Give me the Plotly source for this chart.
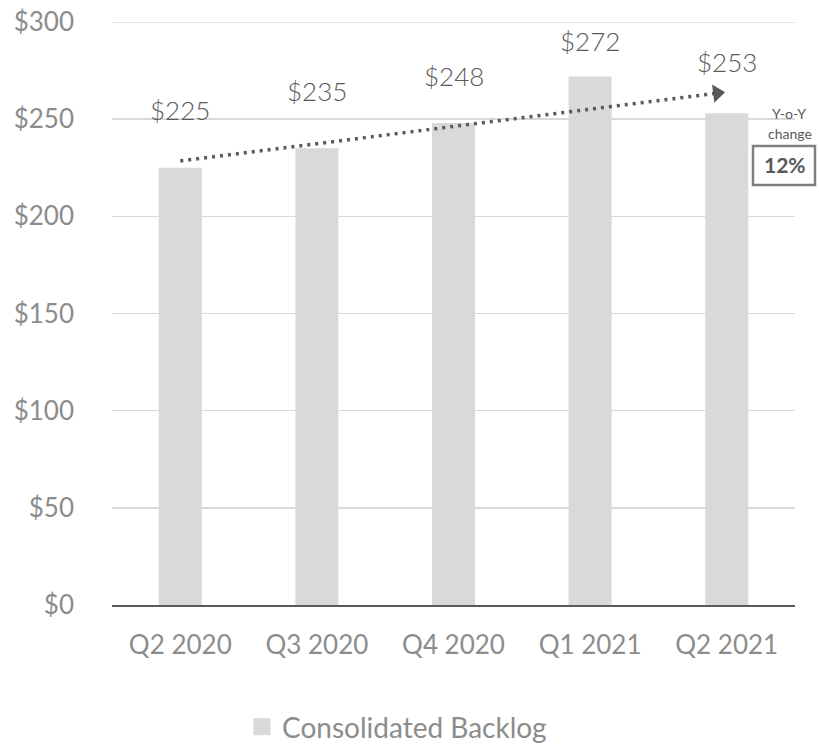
import plotly.graph_objects as go

categories = ["Q2 2020", "Q3 2020", "Q4 2020", "Q1 2021", "Q2 2021"]
backlog = [225, 235, 248, 272, 253]
value_labels = ["$225", "$235", "$248", "$272", "$253"]
y_ticks = [0, 50, 100, 150, 200, 250, 300]
y_tick_labels = ["$0", "$50", "$100", "$150", "$200", "$250", "$300"]
series_name = "Consolidated Backlog"
yoy_change = "12%"

# trend arrow endpoints (category index, value)
trend_start = (0, 228.5)
trend_end = (3.93, 263.4)

# per-label vertical offset (px) of the value labels above the bar tops
label_shift = [58, 57, 47, 35, 51]

GREY_BAR = "#d9d9d9"
DARK = "#595959"
TICK = "#8c8c8c"
FONT = "Lato"

PL, PT, PR, PB = 112, 22, 795, 605   # plot area in window pixels
PW, PH = PR - PL, PB - PT


def px_x(v):
    return (v - PL) / PW


def px_y(v):
    return (PB - v) / PH


x_idx = list(range(len(categories)))

fig = go.Figure()
fig.add_trace(go.Bar(
    x=x_idx, y=backlog, name=series_name,
    marker=dict(color=GREY_BAR, line=dict(width=0)),
    showlegend=False, hoverinfo="skip",
))
# legend entry (larger square swatch)
fig.add_trace(go.Scatter(
    x=[None], y=[None], mode="markers", name=series_name,
    marker=dict(symbol="square", size=16, color=GREY_BAR,
                line=dict(color=GREY_BAR, width=1)),
))
fig.add_trace(go.Scatter(
    x=[trend_start[0], trend_end[0]], y=[trend_start[1], trend_end[1]],
    mode="lines", line=dict(color=DARK, width=3.5, dash="3px,5px"),
    showlegend=False, hoverinfo="skip",
))
fig.add_trace(go.Scatter(
    x=[trend_end[0]], y=[trend_end[1]], mode="markers",
    marker=dict(symbol="triangle-right", size=16, color=DARK, angle=-7,
                line=dict(width=0)),
    showlegend=False, hoverinfo="skip",
))

for i, (v, lab) in enumerate(zip(backlog, value_labels)):
    fig.add_annotation(x=i, y=v, text=lab, showarrow=False, yshift=label_shift[i],
                       font=dict(family=FONT, size=26, color=DARK, weight=300))

# top gridline (plotly omits the grid line on the plot edge)
fig.add_shape(type="line", xref="paper", yref="y", x0=0, x1=1,
              y0=y_ticks[-1], y1=y_ticks[-1], layer="below",
              line=dict(color=GREY_BAR, width=1.5))

# Y-o-Y box
fig.add_annotation(xref="paper", yref="paper", x=px_x(789), y=px_y(114),
                   text="Y-o-Y", showarrow=False, xanchor="center", yanchor="middle",
                   font=dict(family=FONT, size=14, color=DARK))
fig.add_annotation(xref="paper", yref="paper", x=px_x(790), y=px_y(133),
                   text="change", showarrow=False, xanchor="center", yanchor="middle",
                   font=dict(family=FONT, size=14, color=DARK))
fig.add_shape(type="rect", xref="paper", yref="paper",
              x0=px_x(753), x1=px_x(815), y0=px_y(185), y1=px_y(146),
              line=dict(color="#7f7f7f", width=2.5), fillcolor="rgba(0,0,0,0)")
fig.add_annotation(xref="paper", yref="paper", x=px_x(785), y=px_y(165),
                   text="<b>" + yoy_change + "</b>", showarrow=False,
                   xanchor="center", yanchor="middle",
                   font=dict(family=FONT, size=21, color=DARK))

fig.update_layout(
    width=819, height=745,
    margin=dict(l=PL, r=819 - PR, t=PT, b=745 - PB, autoexpand=False),
    plot_bgcolor="white", paper_bgcolor="white",
    bargap=0.685,
    showlegend=True,
    hovermode=False,
    legend=dict(orientation="h", x=px_x(242), xanchor="left",
                y=px_y(727), yanchor="middle",
                font=dict(family=FONT, size=28, color=TICK)),
    xaxis=dict(
        range=[-0.5, len(categories) - 0.5],
        tickmode="array", tickvals=x_idx, ticktext=categories,
        tickfont=dict(family=FONT, size=26, color=TICK),
        showgrid=False, zeroline=False,
        showline=True, linecolor=DARK, linewidth=1.5,
        ticks="", ticklabelstandoff=16, automargin=False,
        ticklabeloverflow="allow",
    ),
    yaxis=dict(
        range=[0, 300],
        tickmode="array", tickvals=y_ticks, ticktext=y_tick_labels,
        tickfont=dict(family=FONT, size=26, color=TICK),
        showgrid=True, gridcolor=GREY_BAR, gridwidth=1.5,
        zeroline=False, showline=False, ticks="", ticklabelstandoff=37,
        automargin=False, ticklabeloverflow="allow",
    ),
)

# remove the default 8px page margin so the figure fills the window exactly
fig.write_html("out.html",
               config={"displayModeBar": False, "staticPlot": True},
               post_script="document.body.style.margin='0';document.body.style.overflow='hidden';")
